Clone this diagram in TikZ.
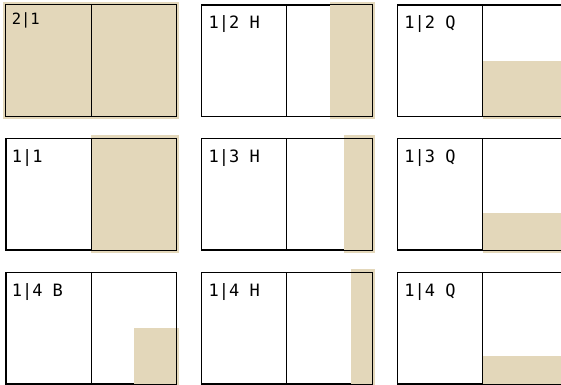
\documentclass[tikz,border=0pt]{standalone}
\usepackage{fontspec}
\setmonofont{DejaVu Sans Mono}
\usetikzlibrary{positioning, calc}

\definecolor{bleedtan}{RGB}{227,215,186}

\begin{document}
\begin{tikzpicture}[
  x=1pt, y=1pt,
  node distance=22pt and 25pt,
  % Estilos de pliegos
  spread/.style={draw=black, rectangle, line width=0.8pt, minimum width=170pt, minimum height=111pt, inner sep=0pt},
  spine/.style={draw=black, line width=0.8pt},
  bleed/.style={fill=bleedtan},
  tag/.style={font=\ttfamily\fontsize{17}{19}\selectfont, inner sep=0pt, anchor=base west},
  smalltag/.style={tag, font=\ttfamily\fontsize{15.5}{17}\selectfont}
]

  \useasboundingbox (0,0) rectangle (561,384);
  \clip (0,0) rectangle (561,384);

  % ==========================================
  % PLIEGOS (3 x 3)
  % ==========================================
  \path node[spread] (s21) at (91,323.5) {};
  \path node[spread, right=of s21] (h12) {};
  \path node[spread, right=of h12] (q12) {};

  \path node[spread, below=of s21] (s11) {};
  \path node[spread, right=of s11] (h13) {};
  \path node[spread, right=of h13] (q13) {};

  \path node[spread, below=of s11] (b14) {};
  \path node[spread, right=of b14] (h14) {};
  \path node[spread, right=of h14] (q14) {};

  % ==========================================
  % ANUNCIOS CON SANGRADO
  % ==========================================
  \fill[bleed] ($(s21.south west)+(-3,-3)$) rectangle ($(s21.north east)+(3,3)$);
  \fill[bleed] ($(s11.south)+(0,-3)$) rectangle ($(s11.north east)+(3,3)$);

  \fill[bleed] ($(h12.south east)+(-42.5,-3)$) rectangle ($(h12.north east)+(3,3)$);
  \fill[bleed] ($(h13.south east)+(-28.3,-3)$) rectangle ($(h13.north east)+(3,3)$);
  \fill[bleed] ($(h14.south east)+(-21.3,-3)$) rectangle ($(h14.north east)+(3,3)$);

  \fill[bleed] ($(q12.south)+(0,-3)$) rectangle ($(q12.east)+(3,0)$);
  \fill[bleed] ($(q13.south)+(0,-3)$) rectangle ($(q13.south east)+(3,37)$);
  \fill[bleed] ($(q14.south)+(0,-3)$) rectangle ($(q14.south east)+(3,27.8)$);

  \fill[bleed] ($(b14.south east)+(-42.5,-3)$) rectangle ($(b14.east)+(3,0)$);

  % ==========================================
  % BORDES Y LOMOS
  % ==========================================
  \foreach \p in {s21, h12, q12, s11, h13, q13, b14, h14, q14} {
    \draw[spine] (\p.south west) rectangle (\p.north east);
    \draw[spine] (\p.north) -- (\p.south);
  }

  % Etiquetas
  \node[smalltag] (t21) at ($(s21.north west)+(6,-20)$) {2|1};
  \node[tag] (th12) at ($(h12.north west)+(7,-24)$) {1|2 H};
  \node[tag] (tq12) at ($(q12.north west)+(7,-24)$) {1|2 Q};
  \node[tag] (t11) at ($(s11.north west)+(6,-24)$) {1|1};
  \node[tag] (th13) at ($(h13.north west)+(7,-24)$) {1|3 H};
  \node[tag] (tq13) at ($(q13.north west)+(7,-24)$) {1|3 Q};
  \node[tag] (tb14) at ($(b14.north west)+(6,-24)$) {1|4 B};
  \node[tag] (th14) at ($(h14.north west)+(7,-24)$) {1|4 H};
  \node[tag] (tq14) at ($(q14.north west)+(7,-24)$) {1|4 Q};

\end{tikzpicture}
\end{document}
